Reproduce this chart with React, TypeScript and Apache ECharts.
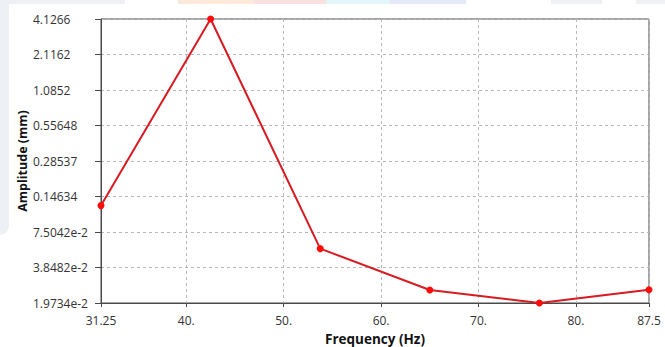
import React, { useEffect, useRef } from "react";
import * as echarts from "echarts";

const frequencies = [31.25, 42.5, 53.75, 65, 76.25, 87.5];
const amplitudes = [0.1233, 4.1266, 0.0549, 0.0252, 0.01975, 0.0253];
const yTickLabels = [
  "1.9734e-2",
  "3.8482e-2",
  "7.5042e-2",
  "0.14634",
  "0.28537",
  "0.55648",
  "1.0852",
  "2.1162",
  "4.1266",
];
const xTickValues = [31.25, 40, 50, 60, 70, 80, 87.5];
const xTickLabels = ["31.25", "40.", "50.", "60.", "70.", "80.", "87.5"];

const Y_MIN = 0.019734;
const Y_MAX = 4.1266;
const Y_STEPS = yTickLabels.length - 1;
const STEP_LOG = Math.log(Y_MAX / Y_MIN) / Y_STEPS;
const toAxis = (v: number) => Math.log(v / Y_MIN) / STEP_LOG;

export default function App() {
  const ref = useRef<HTMLDivElement>(null);
  useEffect(() => {
    if (!ref.current) return;
    const chart = echarts.init(ref.current, null, { renderer: "svg" });
    const font = "'Open Sans', 'Noto Sans', sans-serif";
    chart.setOption({
      animation: false,
      backgroundColor: "#ffffff",
      graphic: [
        { type: "rect", shape: { x: -10, y: -10, width: 19, height: 245, r: 9 }, style: { fill: "#edf1f5" }, z: -10 },
        { type: "rect", shape: { x: 0, y: 0, width: 125, height: 4 }, style: { fill: "#eef0f3" }, z: -10 },
        { type: "rect", shape: { x: 178, y: 0, width: 76, height: 4 }, style: { fill: "#fbe9dc" }, z: -10 },
        { type: "rect", shape: { x: 254, y: 0, width: 72, height: 4 }, style: { fill: "#f9e1e1" }, z: -10 },
        { type: "rect", shape: { x: 326, y: 0, width: 64, height: 4 }, style: { fill: "#e0f6fa" }, z: -10 },
        { type: "rect", shape: { x: 390, y: 0, width: 76, height: 4 }, style: { fill: "#e4e9f8" }, z: -10 },
        { type: "rect", shape: { x: 551, y: 0, width: 51, height: 4 }, style: { fill: "#eef0f3" }, z: -10 },
        { type: "rect", shape: { x: 636, y: 0, width: 29, height: 4 }, style: { fill: "#eef0f3" }, z: -10 },
      ],
      grid: {
        left: 101,
        right: 16,
        top: 19,
        bottom: 44,
        outerBoundsMode: "none",
        containLabel: false,
        show: true,
        borderColor: "#4a4a4a",
        borderWidth: 1,
        backgroundColor: "transparent",
      },
      xAxis: {
        type: "value",
        min: 31.25,
        max: 87.5,
        name: "Frequency (Hz)",
        nameLocation: "middle",
        nameGap: 29,
        nameMoveOverlap: false,
        nameTextStyle: { fontFamily: font, fontSize: 13.5, fontWeight: "bold", color: "#111" },
        axisLine: { show: true, lineStyle: { color: "#4a4a4a", width: 1 } },
        axisTick: { show: true, length: 4, lineStyle: { color: "#4a4a4a" }, customValues: xTickValues },
        axisLabel: {
          customValues: xTickValues,
          margin: 11,
          fontFamily: font,
          fontSize: 12,
          color: "#333",
          formatter: (v: number) => {
            const i = xTickValues.findIndex((t) => Math.abs(t - v) < 1e-6);
            return i >= 0 ? xTickLabels[i] : "";
          },
        },
        splitLine: { show: true, lineStyle: { color: "#b8b8b8", type: [3, 3], width: 1 } },
      },
      yAxis: {
        type: "value",
        min: 0,
        max: Y_STEPS,
        interval: 1,
        name: "Amplitude (mm)",
        nameLocation: "middle",
        nameGap: 72,
        nameMoveOverlap: false,
        nameTextStyle: { fontFamily: font, fontSize: 12.5, fontWeight: "bold", color: "#111" },
        axisLine: { show: true, lineStyle: { color: "#4a4a4a", width: 1 } },
        axisTick: { show: true, length: 6, lineStyle: { color: "#4a4a4a" } },
        axisLabel: {
          align: "left",
          margin: 68,
          fontFamily: font,
          fontSize: 12,
          color: "#333",
          formatter: (v: number) => yTickLabels[Math.round(v)] ?? "",
        },
        splitLine: { show: true, lineStyle: { color: "#b8b8b8", type: [3, 3], width: 1 } },
      },
      series: [
        {
          type: "line",
          data: frequencies.map((f, i) => [f, toAxis(amplitudes[i])]),
          symbol: "circle",
          symbolSize: 7,
          clip: false,
          lineStyle: { color: "#d81a22", width: 2 },
          itemStyle: { color: "#ff0a0a" },
        },
      ],
    });
    return () => chart.dispose();
  }, []);
  return (
    <div
      ref={ref}
      style={{ position: "fixed", left: 0, top: 0, width: 665, height: 347 }}
    />
  );
}
